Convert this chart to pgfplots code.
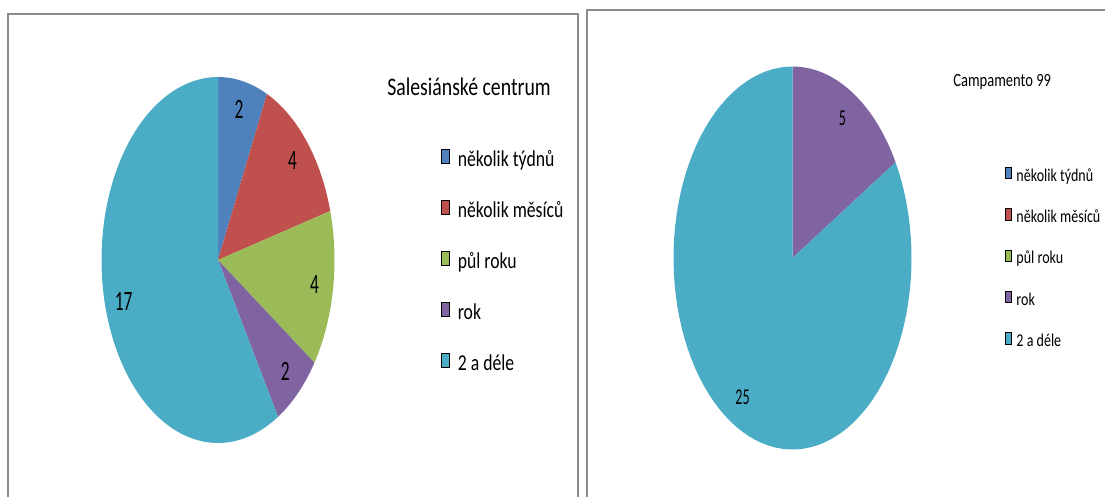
\documentclass[border=0pt]{standalone}
\usepackage{pgfplots}
\pgfplotsset{compat=1.18}
\usepackage{fontspec}
\setmainfont{Carlito}
\newfontfamily\narrowfont[FakeStretch=0.78]{Carlito}
\newfontfamily\labfont[FakeStretch=0.62]{Carlito}

\definecolor{xlblue}{HTML}{4F81BD}
\definecolor{xlred}{HTML}{C0504D}
\definecolor{xlgreen}{HTML}{9BBB59}
\definecolor{xlpurple}{HTML}{8064A2}
\definecolor{xlaqua}{HTML}{4BACC6}
\definecolor{frame}{HTML}{8C8C8C}

% running pie: \piestart{total}, then \pieslice{value}{colour}
\newcommand\piestart[1]{\def\pietotal{#1}\def\piecum{0}}
\newcommand\pieslice[2]{%
  \ifdim #1pt>0pt
    \pgfmathsetmacro\pa{90-360*\piecum/\pietotal}%
    \pgfmathsetmacro\piecumnew{\piecum+#1}%
    \pgfmathsetmacro\pb{90-360*\piecumnew/\pietotal}%
    \pgfmathsetmacro\pmid{(\pa+\pb)/2}%
    \edef\temp{%
      \noexpand\addplot[forget plot, draw=none, fill=#2, domain=\pb:\pa,
        samples=90] ({cos(x)},{sin(x)}) -- (axis cs:0,0) -- cycle;
      \noexpand\node[pielabel] at (axis cs:{0.84*cos(\pmid)},{0.84*sin(\pmid)}) {#1};}%
    \temp
    \global\let\piecum\piecumnew
  \fi}

\pgfplotsset{
  pie/.style={scale only axis, hide axis, clip=false,
    xmin=-1, xmax=1, ymin=-1, ymax=1, anchor=center,
    legend cell align=left},
}

\begin{document}
\begin{tikzpicture}[x=0.75pt, y=-0.75pt]
\useasboundingbox (0,0) rectangle (1105,497);
% chart frames
\draw[frame, line width=1.5pt] (7.5,497) -- (7.5,14) -- (578,14) -- (578,497);
\draw[frame, line width=1.5pt] (587,497) -- (587,10) -- (1105,10);
\coordinate (c1) at (218,260);
\coordinate (c2) at (792.5,258);

\node[anchor=base west, inner sep=0pt, font=\narrowfont\fontsize{19pt}{22pt}\selectfont]
  at (387,95) {Salesiánské centrum};
\node[anchor=base west, inner sep=0pt, font=\narrowfont\fontsize{14pt}{16pt}\selectfont]
  at (953,86) {Campamento 99};

\begin{axis}[pie, at={(c1)}, width=174.75pt, height=274.5pt,
  /tikz/pielabel/.style={font=\labfont\fontsize{21pt}{24pt}\selectfont, text=black},
  legend image code/.code={\fill[#1] (0pt,-2pt) rectangle (6pt,8.5pt);},
  legend style={at={(rel axis cs:1.44,0.811)}, anchor=north west, draw=none, fill=none,
    font=\narrowfont\fontsize{17pt}{20pt}\selectfont,
    nodes={inner sep=0pt, text height=12pt, text depth=3.5pt},
    row sep=21.75pt, column sep=6pt},
]
\addlegendimage{fill=xlblue}\addlegendentry{několik týdnů}
\addlegendimage{fill=xlred}\addlegendentry{několik měsíců}
\addlegendimage{fill=xlgreen}\addlegendentry{půl roku}
\addlegendimage{fill=xlpurple}\addlegendentry{rok}
\addlegendimage{fill=xlaqua}\addlegendentry{2 a déle}
\piestart{29}
\pieslice{2}{xlblue}
\pieslice{4}{xlred}
\pieslice{4}{xlgreen}
\pieslice{2}{xlpurple}
\pieslice{17}{xlaqua}
\end{axis}

\begin{axis}[pie, at={(c2)}, width=178.5pt, height=287.25pt,
  /tikz/pielabel/.style={font=\labfont\fontsize{17pt}{20pt}\selectfont, text=black},
  legend image code/.code={\fill[#1] (0pt,-1.5pt) rectangle (4.5pt,7pt);},
  legend style={at={(rel axis cs:1.376,0.7456)}, anchor=north west, draw=none, fill=none,
    font=\narrowfont\fontsize{13.5pt}{16pt}\selectfont,
    nodes={inner sep=0pt, text height=10pt, text depth=3pt},
    row sep=17.3pt, column sep=3.5pt},
]
\addlegendimage{fill=xlblue}\addlegendentry{několik týdnů}
\addlegendimage{fill=xlred}\addlegendentry{několik měsíců}
\addlegendimage{fill=xlgreen}\addlegendentry{půl roku}
\addlegendimage{fill=xlpurple}\addlegendentry{rok}
\addlegendimage{fill=xlaqua}\addlegendentry{2 a déle}
\piestart{30}
\pieslice{0}{xlblue}
\pieslice{0}{xlred}
\pieslice{0}{xlgreen}
\pieslice{5}{xlpurple}
\pieslice{25}{xlaqua}
\end{axis}
\end{tikzpicture}
\end{document}
